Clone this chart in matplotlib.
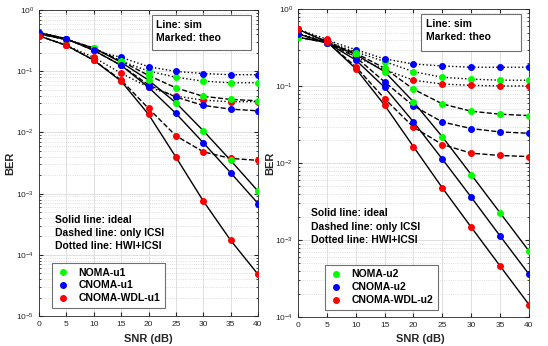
import matplotlib
matplotlib.use("Agg")
import matplotlib.pyplot as plt
from matplotlib.lines import Line2D
from matplotlib.patches import Rectangle
from matplotlib.ticker import LogLocator, NullFormatter

plt.rcParams['font.family'] = ['Liberation Sans', 'DejaVu Sans']

snr = [0, 5, 10, 15, 20, 25, 30, 35, 40]

# left panel, user 1
u1_noma_ideal = [0.41, 0.33, 0.24, 0.14, 0.0718, 0.0306, 0.0107, 0.0035, 0.0011]
u1_cnoma_ideal = [0.43, 0.34, 0.22, 0.125, 0.055, 0.0205, 0.0068, 0.0022, 0.00069]
u1_wdl_ideal = [0.38, 0.265, 0.152, 0.069, 0.0198, 0.00396, 0.00076, 0.000173, 0.000048]
u1_noma_icsi = [0.41, 0.33, 0.24, 0.147, 0.0857, 0.0537, 0.039, 0.0347, 0.033]
u1_cnoma_icsi = [0.43, 0.34, 0.22, 0.125, 0.06, 0.038, 0.0277, 0.0241, 0.0226]
u1_wdl_icsi = [0.38, 0.265, 0.152, 0.072, 0.0248, 0.00883, 0.00484, 0.00377, 0.0035]
u1_noma_hwi = [0.41, 0.33, 0.24, 0.147, 0.101, 0.080, 0.069, 0.065, 0.065]
u1_cnoma_hwi = [0.43, 0.34, 0.22, 0.169, 0.119, 0.0995, 0.092, 0.088, 0.088]
u1_wdl_hwi = [0.38, 0.265, 0.169, 0.093, 0.055, 0.0393, 0.0338, 0.0318, 0.032]

# right panel, user 2
u2_noma_ideal = [0.435, 0.37, 0.26, 0.155, 0.0627, 0.022, 0.0071, 0.00226, 0.00072]
u2_cnoma_ideal = [0.48, 0.37, 0.22, 0.097, 0.0344, 0.0113, 0.00361, 0.00113, 0.00036]
u2_wdl_ideal = [0.55, 0.38, 0.17, 0.0568, 0.0164, 0.00477, 0.00147, 0.00046, 0.000145]
u2_noma_icsi = [0.435, 0.37, 0.27, 0.172, 0.0917, 0.059, 0.0474, 0.0434, 0.0416]
u2_cnoma_icsi = [0.48, 0.37, 0.24, 0.114, 0.0556, 0.0344, 0.0282, 0.0255, 0.0245]
u2_wdl_icsi = [0.55, 0.38, 0.18, 0.069, 0.0294, 0.0175, 0.0135, 0.0126, 0.0122]
u2_noma_hwi = [0.435, 0.38, 0.28, 0.21, 0.155, 0.131, 0.124, 0.12, 0.12]
u2_cnoma_hwi = [0.48, 0.40, 0.30, 0.227, 0.195, 0.184, 0.177, 0.177, 0.177]
u2_wdl_hwi = [0.55, 0.41, 0.24, 0.165, 0.12, 0.107, 0.103, 0.101, 0.101]

colors = ['#00ff00', '#0000ff', '#ff0000']
grey = '#262626'

fig = plt.figure(figsize=(5.48, 3.46), dpi=100)
ax1 = fig.add_axes([0.0712, 0.0867, 0.3996, 0.884])
ax2 = fig.add_axes([0.5438, 0.0838, 0.4215, 0.889])

panels = [
    (ax1, [u1_noma_ideal, u1_cnoma_ideal, u1_wdl_ideal],
     [u1_noma_icsi, u1_cnoma_icsi, u1_wdl_icsi],
     [u1_noma_hwi, u1_cnoma_hwi, u1_wdl_hwi], 'u1', (1e-5, 1)),
    (ax2, [u2_noma_ideal, u2_cnoma_ideal, u2_wdl_ideal],
     [u2_noma_icsi, u2_cnoma_icsi, u2_wdl_icsi],
     [u2_noma_hwi, u2_cnoma_hwi, u2_wdl_hwi], 'u2', (1e-4, 1)),
]

for ax, ideal, icsi, hwi, user, ylim in panels:
    for group, ls in [(hwi, ':'), (icsi, '--'), (ideal, '-')]:
        for vals, c in zip(group, colors):
            ax.semilogy(snr, vals, color='black', ls=ls, lw=1.0, zorder=3)
            ax.semilogy(snr, vals, 'o', color=c, ms=4.0, mec=c, ls='none', zorder=4)
    ax.set_xlim(0, 40)
    ax.set_ylim(*ylim)
    ax.set_xticks(range(0, 41, 5))
    ax.yaxis.set_minor_locator(LogLocator(base=10, subs=range(2, 10), numticks=20))
    ax.yaxis.set_minor_formatter(NullFormatter())
    ax.grid(True, which='major', color='#e0e0e0', lw=0.7)
    ax.grid(True, which='minor', axis='y', color='#d4d4d4', ls=':', lw=0.6)
    ax.tick_params(which='both', direction='in', top=True, right=True,
                   labelsize=6, colors=grey, length=3)
    ax.tick_params(which='minor', length=1.5)
    for s in ax.spines.values():
        s.set_color(grey)
        s.set_linewidth(0.6)
    ax.set_xlabel('SNR (dB)', fontsize=8, fontweight='bold', color=grey)
    ax.set_ylabel('BER', fontsize=8, fontweight='bold', color=grey)

    handles = [Line2D([], [], marker='o', ls='none', color=c, ms=4.0) for c in colors]
    labels = ['NOMA-' + user, 'CNOMA-' + user, 'CNOMA-WDL-' + user]
    leg = ax.legend(handles, labels, loc='lower left',
                    prop={'weight': 'bold', 'size': 7.5}, fancybox=False,
                    edgecolor='#707070', framealpha=1, handlelength=1.2,
                    handletextpad=0.9, borderpad=0.45, labelspacing=0.28,
                    borderaxespad=0,
                    bbox_to_anchor=(0.059, 0.026) if user == 'u1' else (0.117, 0.023))
    leg.get_frame().set_linewidth(0.8)

ax1.xaxis.set_label_coords(0.5, -0.058)
ax2.xaxis.set_label_coords(0.53, -0.055)
ax1.yaxis.set_label_coords(-0.11, 0.5)
ax2.yaxis.set_label_coords(-0.10, 0.5)

# "Line: sim / Marked: theo" boxes
for ax, box, tx, ty in [(ax1, (0.516, 0.869, 0.452, 0.114), 0.534, (0.951, 0.908)),
                        (ax2, (0.531, 0.866, 0.433, 0.119), 0.554, (0.953, 0.911))]:
    ax.add_patch(Rectangle(box[:2], box[2], box[3], transform=ax.transAxes,
                           facecolor='white', edgecolor='#707070', lw=0.8, zorder=5))
    ax.text(tx, ty[0], 'Line: sim', transform=ax.transAxes, fontsize=7.5,
            fontweight='bold', va='center', zorder=6)
    ax.text(tx, ty[1], 'Marked: theo', transform=ax.transAxes, fontsize=7.5,
            fontweight='bold', va='center', zorder=6)

notes = ['Solid line: ideal', 'Dashed line: only ICSI', 'Dotted line: HWI+ICSI']
for ax, tx, ys in [(ax1, 0.073, (0.314, 0.272, 0.229)),
                   (ax2, 0.056, (0.337, 0.292, 0.250))]:
    for t, y in zip(notes, ys):
        ax.text(tx, y, t, transform=ax.transAxes, fontsize=7.5,
                fontweight='bold', va='center', zorder=6)

fig.savefig('out.png', dpi=100)
